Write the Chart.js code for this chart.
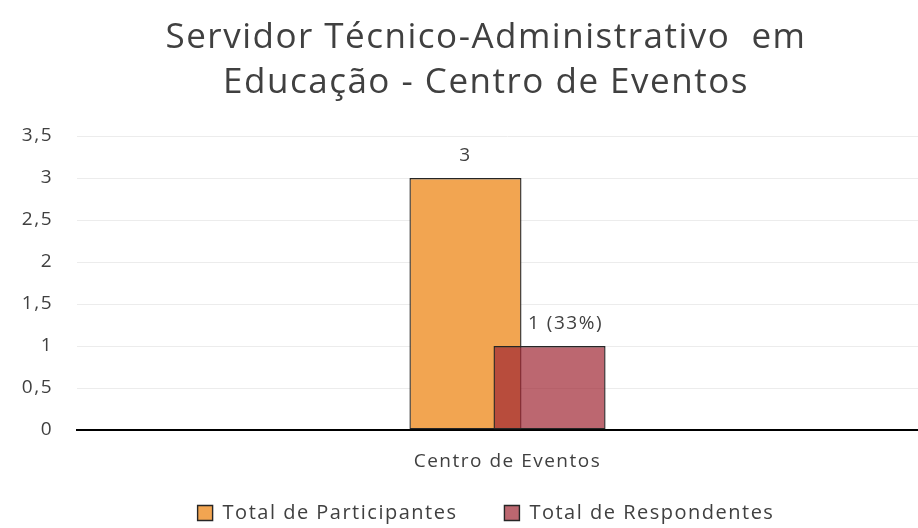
<!DOCTYPE html>
<html>
<head>
<meta charset="utf-8">
<script src="https://cdn.jsdelivr.net/npm/chart.js@4.4.0/dist/chart.umd.min.js"></script>
<style>
  html, body { margin: 0; padding: 0; background: #fff; overflow: hidden; }
  #wrap { width: 918px; height: 528px; overflow: hidden; }
</style>
</head>
<body>
<div id="wrap"><canvas id="graph" width="938" height="528"></canvas></div>
<script>
var categories = ["Centro de Eventos"];
var seriesNames = ["Total de Participantes", "Total de Respondentes"];
var participantes = [3];
var respondentes = [1];
var valueLabels = [["3"], ["1 (33%)"]];
var yTicks = [0, 0.5, 1, 1.5, 2, 2.5, 3, 3.5];

var textColor = "#404040";
var fontFamily = "'Open Sans', 'Noto Sans', sans-serif";
var labelShift = [0, 16];

// wider letter spacing, like the original
var spacing = {
  id: "spacing",
  beforeLayout: function (chart) { chart.ctx.letterSpacing = "1.5px"; },
  beforeDraw: function (chart) {
    chart.ctx.letterSpacing = "1.5px";
    // tick labels may spill out of the (narrow) axis boxes
    var noClip = function () { return undefined; };
    chart.scales.y._computeLabelArea = noClip;
    chart.scales.x._computeLabelArea = noClip;
  }
};

// draws the value text over each bar
var barLabels = {
  id: "barLabels",
  afterDatasetsDraw: function (chart) {
    var ctx = chart.ctx;
    ctx.save();
    ctx.font = "19px " + fontFamily;
    ctx.fillStyle = textColor;
    ctx.textAlign = "center";
    ctx.textBaseline = "bottom";
    chart.data.datasets.forEach(function (ds, i) {
      chart.getDatasetMeta(i).data.forEach(function (bar, j) {
        ctx.fillText(valueLabels[i][j], bar.x + labelShift[i], bar.y - 13);
      });
    });
    ctx.restore();
  }
};

// second series must be painted on top of the first one
var redOnTop = {
  id: "redOnTop",
  beforeDatasetDraw: function (chart, args) {
    if (args.index === 1 && !chart._lateDraw) return false;
  },
  afterDatasetsDraw: function (chart) {
    chart._lateDraw = true;
    chart.ctx.save();
    chart.getDatasetMeta(1).controller.draw();
    chart.ctx.restore();
    chart._lateDraw = false;
  }
};

var data = {
  labels: categories,
  datasets: [{
    label: seriesNames[0],
    data: participantes,
    backgroundColor: "#F2A551",
    borderColor: "#262626",
    borderWidth: 1.4,
    borderSkipped: false
  }, {
    label: seriesNames[1],
    data: respondentes,
    backgroundColor: "rgba(159, 38, 51, 0.7)",
    borderColor: "#262626",
    borderWidth: 1.4,
    borderSkipped: false
  }]
};

var config = {
  type: "bar",
  data: data,
  plugins: [spacing, redOnTop, barLabels],
  options: {
    responsive: false,
    animation: false,
    categoryPercentage: 0.1953,
    barPercentage: 1.333,
    layout: {
      padding: { left: 34, right: 0, top: 16, bottom: -5 }
    },
    plugins: {
      title: {
        display: true,
        text: ["Servidor Técnico-Administrativo  em", "Educação - Centro de Eventos"],
        color: textColor,
        font: { family: fontFamily, size: 35, weight: "normal", lineHeight: 1.286 },
        padding: { top: 0, bottom: 30 }
      },
      legend: {
        position: "bottom",
        labels: {
          color: textColor,
          font: { family: fontFamily, size: 20 },
          boxWidth: 15,
          boxHeight: 15,
          padding: 47
        }
      },
      tooltip: { enabled: false }
    },
    scales: {
      x: {
        grid: { display: false, drawTicks: false },
        border: { color: "#000", width: 2 },
        ticks: {
          color: textColor,
          font: { family: fontFamily, size: 19 },
          padding: 20
        },
        afterFit: function (scale) { scale.height = 26; }
      },
      y: {
        min: 0,
        max: 3.5,
        afterBuildTicks: function (scale) {
          scale.ticks = yTicks.map(function (v) { return { value: v }; });
        },
        grid: { color: "#ececec", drawTicks: false },
        border: { display: false },
        ticks: {
          color: textColor,
          font: { family: fontFamily, size: 19 },
          padding: 24,
          callback: function (v) { return String(v).replace(".", ","); }
        },
        afterFit: function (scale) { scale.width = 43; }
      }
    }
  }
};

new Chart(document.getElementById("graph"), config);
</script>
</body>
</html>
